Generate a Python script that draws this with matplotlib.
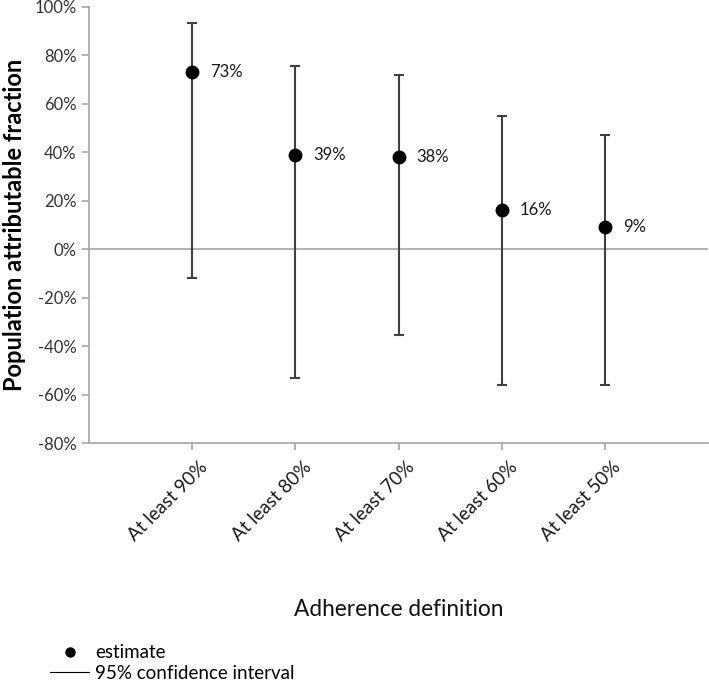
import numpy as np
import matplotlib.pyplot as plt
import matplotlib.transforms as mtrans
from matplotlib.lines import Line2D

plt.rcParams['font.family'] = ['Lato', 'DejaVu Sans']

categories = ['At least 90%', 'At least 80%', 'At least 70%', 'At least 60%', 'At least 50%']
estimate = [73, 39, 38, 16, 9]
ci_low = [-12, -53, -35.5, -56, -56]
ci_high = [93.5, 75.5, 72, 55, 47.3]
point_labels = ['73%', '39%', '38%', '16%', '9%']

grey = '#a6a6a6'
bar_col = '#404040'

fig = plt.figure(figsize=(7.09, 6.82), dpi=100)
ax = fig.add_axes([89/709, 1 - 443/682, 619/709, 436/682])

x = np.arange(len(categories))
est = np.array(estimate)
yerr = [est - np.array(ci_low), np.array(ci_high) - est]
ax.errorbar(x, est, yerr=yerr, fmt='none', ecolor=bar_col, elinewidth=1.5,
            capsize=3.6, capthick=1.5, zorder=2)
ax.plot(x, est, 'o', color='black', markersize=9, zorder=3)
for xi, yi, lab in zip(x, est, point_labels):
    ax.annotate(lab, (xi, yi), xytext=(13, 0), textcoords='offset points',
                va='center', ha='left', fontsize=12, color='#1a1a1a')

ax.axhline(0, color=grey, lw=1.2, zorder=1)

ax.set_xlim(-1, 5)
ax.set_ylim(-80, 100)
ax.set_yticks(np.arange(-80, 101, 20))
ax.set_yticklabels([f'{v}%' for v in range(-80, 101, 20)], fontsize=12)
ax.set_xticks(x)
ax.set_xticklabels(categories, rotation=45, ha='right', rotation_mode='anchor',
                   fontsize=13.5)

for s in ['top', 'right']:
    ax.spines[s].set_visible(False)
for s in ['left', 'bottom']:
    ax.spines[s].set_color(grey)
    ax.spines[s].set_linewidth(1.2)
ax.tick_params(axis='both', colors=grey, length=5, width=1.2)
ax.tick_params(axis='x', labelcolor='#1a1a1a', pad=6)
ax.tick_params(axis='y', labelcolor='#333333', pad=4)

# nudge rotated labels right (after tick_params, which resets transforms)
shift = mtrans.ScaledTranslation(7/100, 0, fig.dpi_scale_trans)
for t in ax.get_xticklabels():
    t.set_transform(t.get_transform() + shift)

ax.set_ylabel('Population attributable fraction', fontsize=17, fontweight='bold', labelpad=6)
fig.text(399/709, 1 - 610/682, 'Adherence definition', fontsize=16.3,
         ha='center', va='center', color='#111111')

handles = [Line2D([], [], marker='o', color='black', linestyle='none', markersize=6.5),
           Line2D([], [], color='black', lw=0.8)]
fig.legend(handles, ['estimate', '95% confidence interval'], loc='lower left',
           bbox_to_anchor=(50/709, 0), frameon=False, fontsize=13.5,
           borderpad=0, borderaxespad=0,
           handlelength=2.1, handletextpad=0.3, labelspacing=0.2)

fig.savefig('out.png', dpi=100)
